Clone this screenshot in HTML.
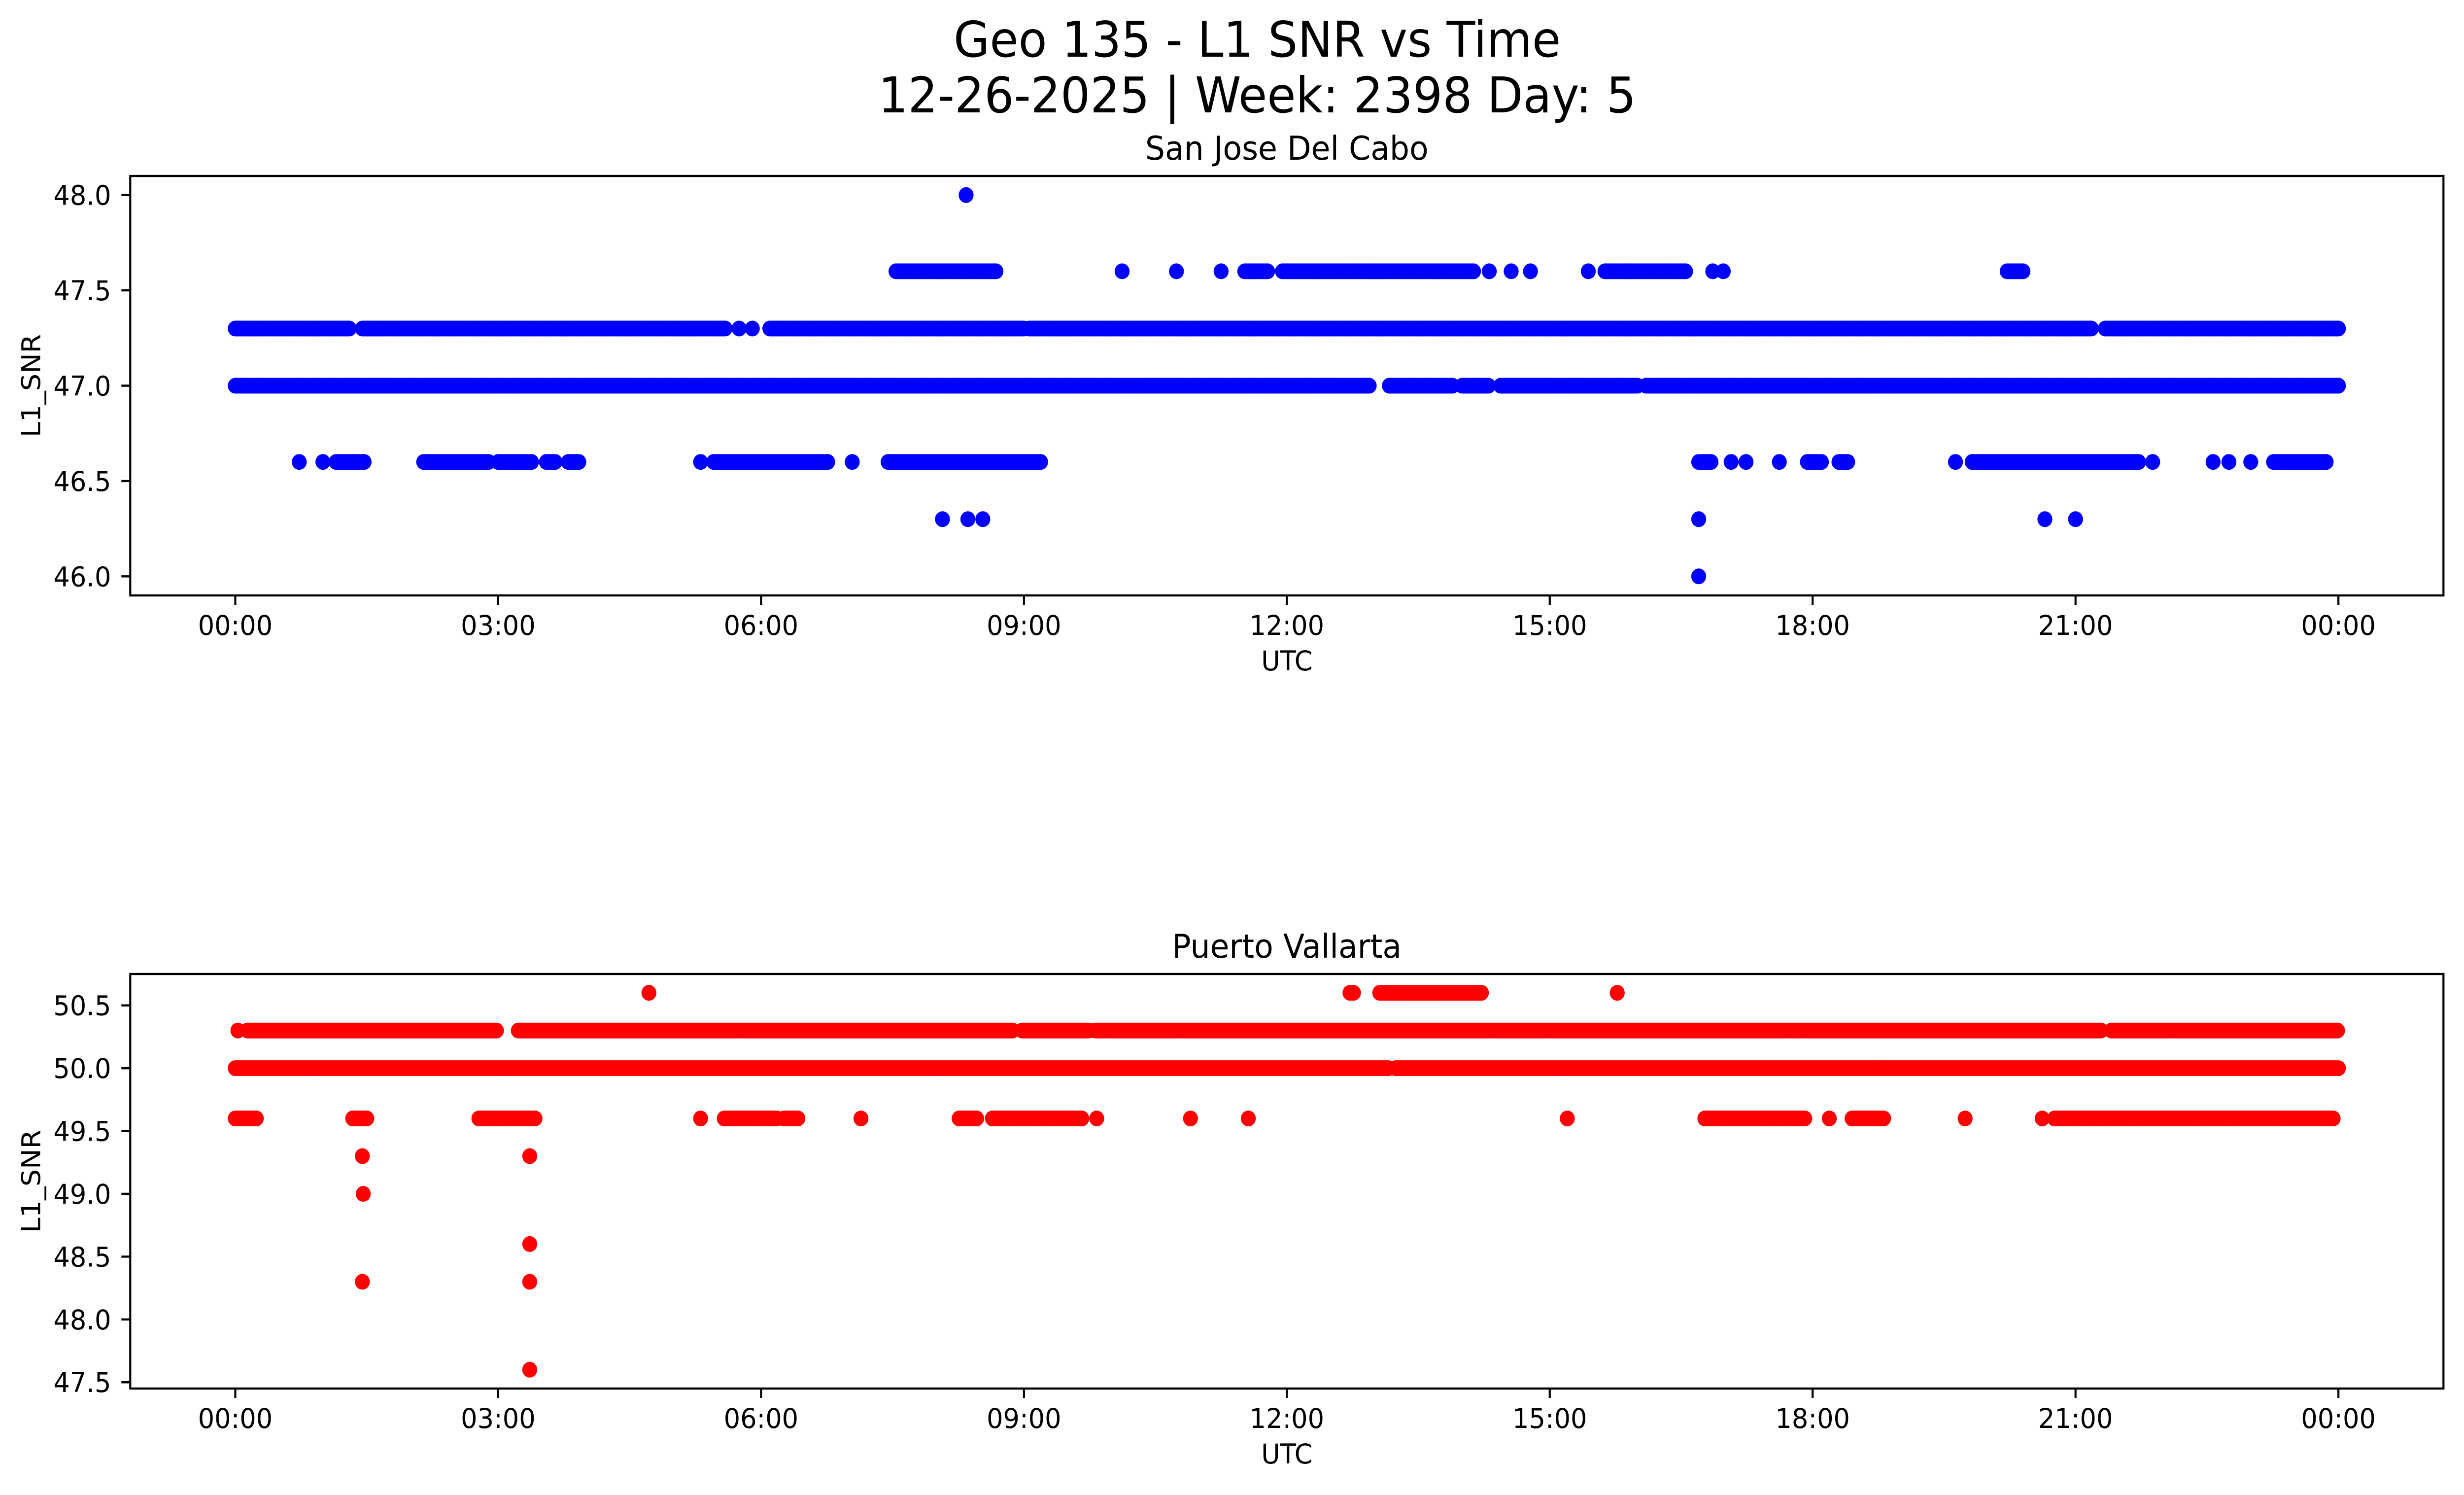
<!DOCTYPE html>
<html><head><meta charset="utf-8"><title>Geo 135 - L1 SNR vs Time</title>
<style>
html,body{margin:0;padding:0;background:#fff;overflow:hidden;width:100%;height:100%;}
svg{display:block;width:100vw;height:100vh;font-family:"DejaVu Sans","Liberation Sans",sans-serif;}
</style></head>
<body>
<svg id="fig" viewBox="0 0 5278 3033" preserveAspectRatio="none" xmlns="http://www.w3.org/2000/svg">
<rect x="0" y="0" width="5278" height="3033" fill="#fff"/>
<text x="2693" y="115" font-size="100" text-anchor="middle">Geo 135 - L1 SNR vs Time</text>
<text x="2693" y="228" font-size="100" text-anchor="middle">12-26-2025 | Week: 2398 Day: 5</text>
<g id="top"></g>
<g id="bot"></g>
</svg>
<script>
// ---- data (hours UTC, SNR) ----
// runs: [startHour, endHour, snr]; points: [hour, snr]
const xTickLabels = ["00:00","03:00","06:00","09:00","12:00","15:00","18:00","21:00","00:00"];
const xTickHours = [0,3,6,9,12,15,18,21,24];
const topYTicks = [46.0,46.5,47.0,47.5,48.0];
const botYTicks = [47.5,48.0,48.5,49.0,49.5,50.0,50.5];

const topRuns = [
 [0,1.3,47.3],[1.45,5.6,47.3],[6.1,9.0,47.3],[9.06,21.18,47.3],[21.34,24,47.3],
 [0,12.95,47.0],[13.17,13.9,47.0],[14.0,14.3,47.0],[14.44,16.0,47.0],[16.1,24,47.0],
 [7.54,8.68,47.6],[11.52,11.78,47.6],[11.95,14.14,47.6],[15.63,16.56,47.6],[20.22,20.4,47.6],
 [1.0,1.0,46.6],[1.15,1.47,46.6],[2.15,2.9,46.6],[3.0,3.38,46.6],[3.55,3.65,46.6],[3.8,3.93,46.6],
 [5.46,6.77,46.6],[7.45,9.19,46.6],[19.82,21.73,46.6],[23.26,23.86,46.6],[17.94,18.1,46.6],[18.3,18.4,46.6],
 [16.7,16.85,46.6]
];
const topPoints = [
 [5.75,47.3],[5.9,47.3],
 [10.12,47.6],[10.74,47.6],[11.25,47.6],[14.31,47.6],[14.56,47.6],[14.78,47.6],[15.44,47.6],[16.86,47.6],[16.98,47.6],
 [0.73,46.6],[5.31,46.6],[7.04,46.6],[17.07,46.6],[17.24,46.6],[17.62,46.6],[19.63,46.6],[21.88,46.6],[22.57,46.6],[22.75,46.6],[23.0,46.6],
 [8.07,46.3],[8.36,46.3],[8.53,46.3],[16.7,46.3],[20.65,46.3],[21.0,46.3],
 [16.7,46.0],[8.34,48.0]
];
const botRuns = [
 [0.14,2.98,50.3],[3.23,8.87,50.3],[8.98,9.74,50.3],[9.81,21.3,50.3],[21.41,24,50.3],
 [0,13.17,50.0],[13.24,24,50.0],
 [13.06,14.23,50.6],
 [0,0.24,49.6],[1.34,1.51,49.6],[2.78,3.42,49.6],[5.58,6.18,49.6],[6.26,6.43,49.6],[8.26,8.47,49.6],[8.64,9.66,49.6],
 [16.77,17.91,49.6],[18.45,18.81,49.6],[20.76,23.94,49.6]
];
const botPoints = [
 [0.03,50.3],[4.72,50.6],[12.72,50.6],[12.76,50.6],[15.77,50.6],
 [5.31,49.6],[7.14,49.6],[9.83,49.6],[10.9,49.6],[11.56,49.6],[15.2,49.6],[18.19,49.6],[19.74,49.6],[20.62,49.6],
 [1.45,49.3],[3.36,49.3],[1.46,49.0],[3.36,48.6],[1.45,48.3],[3.36,48.3],[3.36,47.6]
];

const NS="http://www.w3.org/2000/svg";
function mk(tag, attrs, parent){const e=document.createElementNS(NS,tag);for(const k in attrs)e.setAttribute(k,attrs[k]);parent.appendChild(e);return e;}

function panel(g, cfg){
  const L=279,R=5234,T=cfg.top,B=cfg.bottom;
  const x0=504,x24=5009;
  const xs=h=>x0+(x24-x0)*h/24;
  const ys=v=>B-(v-cfg.ymin)/(cfg.ymax-cfg.ymin)*(B-T);
  const pts=mk('g',{},g);
  
  
  const step=0.02;
  cfg.runs.forEach(r=>{
    for(let h=r[0];h<=r[1]+1e-9;h+=step){
      const c=mk('circle',{cx:xs(h).toFixed(1),cy:ys(r[2]).toFixed(1),r:16,fill:cfg.color},pts);
      
      
    }
  });
  cfg.points.forEach(p=>{
    const c=mk('circle',{cx:xs(p[0]).toFixed(1),cy:ys(p[1]).toFixed(1),r:16,fill:cfg.color},pts);
    
    
  });
  const fr=mk('rect',{x:L,y:T,width:R-L,height:B-T,fill:'none',stroke:'#000','stroke-width':4.4},g);
  
  
  xTickHours.forEach((h,i)=>{
    const x=xs(h);
    const t=mk('line',{x1:x,y1:B,x2:x,y2:B+19,stroke:'#000','stroke-width':4.4},g);
    
    
    const tx=mk('text',{x:x,y:B+80,'font-size':55.5,'text-anchor':'middle'},g);
    tx.textContent=xTickLabels[i];
    
    
  });
  cfg.yticks.forEach(v=>{
    const y=ys(v);
    const t=mk('line',{x1:L-19,y1:y,x2:L,y2:y,stroke:'#000','stroke-width':4.4},g);
    
    
    const tx=mk('text',{x:238,y:y+20,'font-size':55.5,'text-anchor':'end'},g);
    tx.textContent=v.toFixed(1);
    
    
  });
  const xl=mk('text',{x:(L+R)/2,y:B+152,'font-size':55.5,'text-anchor':'middle'},g);
  xl.textContent='UTC';
  
  
  const cy=(T+B)/2;
  const yl=mk('text',{x:86,y:cy,'font-size':55.5,'text-anchor':'middle',transform:`rotate(-90 86 ${cy})`},g);
  yl.textContent='L1_SNR';
  
  
  const tt=mk('text',{x:(L+R)/2,y:T-33,'font-size':66.7,'text-anchor':'middle'},g);
  tt.textContent=cfg.title;
  
  
}
panel(document.getElementById('top'),{top:357,bottom:1208,ymin:45.9,ymax:48.1,yticks:topYTicks,runs:topRuns,points:topPoints,color:'#0000ff',title:'San Jose Del Cabo'});
panel(document.getElementById('bot'),{top:1976,bottom:2817,ymin:47.45,ymax:50.75,yticks:botYTicks,runs:botRuns,points:botPoints,color:'#ff0000',title:'Puerto Vallarta'});
</script>
</body></html>
